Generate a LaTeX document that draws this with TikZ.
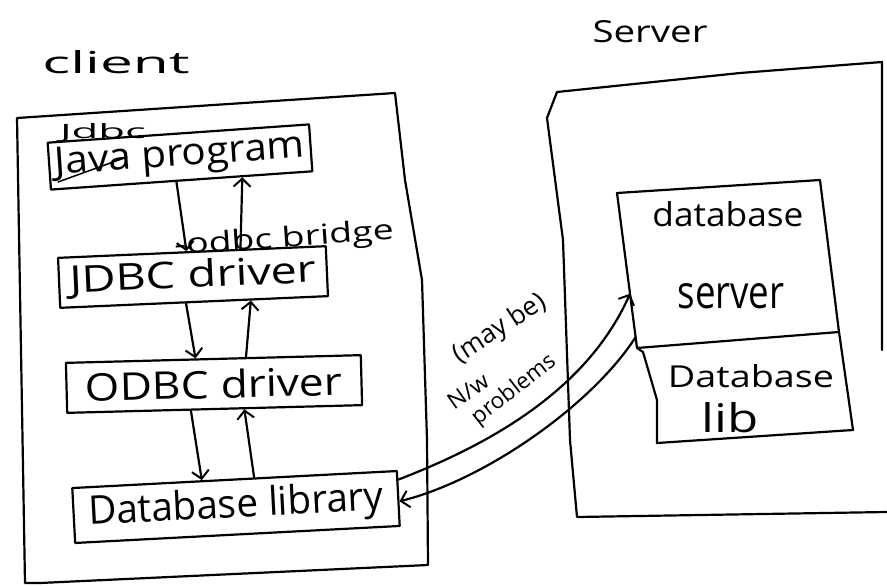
\documentclass[tikz,border=0pt]{standalone}
\usepackage{graphicx}
\usepackage{fontspec}
\setmainfont{Open Sans}
\usetikzlibrary{arrows.meta,calc}
\tikzset{
  ink/.style={line width=2.2pt, line join=round, line cap=round},
  box/.style={ink, draw, rectangle, inner sep=0pt},
  lbl/.style={inner sep=0pt},
  arr/.style={ink, -{Straight Barb[length=8pt,width=17pt,line width=2pt]}},
}
\newcommand\fitwh[3]{\resizebox{#1pt}{#2pt}{#3}}
\begin{document}
\begin{tikzpicture}[x=1pt,y=-1pt]
\fill[white] (0,0) rectangle (887,586);
\useasboundingbox (0,0) rectangle (887,586);

% titles
\node[lbl] (client) at (116,62) {\fitwh{147}{23}{client}};
\node[lbl] (server) at (650,32) {\fitwh{115}{22}{Server}};

% client container
\draw[ink] (17,118) -- (395,93) -- (405,180) -- (422,280) -- (427,440) -- (428,565) -- (40,583) -- (25,583) -- cycle;

% client boxes
\node[box, minimum width=262pt, minimum height=47pt, rotate=4] (java) at (180,157) {\fitwh{250}{27}{Java program}};
\node[lbl] (jdbcnote) at (103,133) {\fitwh{86}{15}{Jdbc}};
\draw[ink, line width=1.5pt] (58,182) -- (127,157);

\node[box, minimum width=268pt, minimum height=50pt, rotate=2.5] (jdbc) at (193,277) {\fitwh{247}{28}{JDBC driver}};
\node[lbl, rotate=4] (bridge) at (284,240) {\fitwh{220}{21}{-odbc bridge}};

\node[box, minimum width=295pt, minimum height=50pt, rotate=1.5] (odbc) at (214,384) {\fitwh{257}{29}{ODBC driver}};

\node[box, minimum width=325pt, minimum height=55pt, rotate=3] (dblib) at (236,507) {\fitwh{295}{30}{Database library}};

% vertical arrows
\draw[arr] ($(java.south west)!0.48!(java.south east)$) -- ($(jdbc.north west)!0.48!(jdbc.north east)$);
\draw[arr] ($(jdbc.north west)!0.68!(jdbc.north east)$) -- ($(java.south west)!0.73!(java.south east)$);
\draw[arr] ($(jdbc.south west)!0.47!(jdbc.south east)$) -- ($(odbc.north west)!0.44!(odbc.north east)$);
\draw[arr] ($(odbc.north west)!0.61!(odbc.north east)$) -- ($(jdbc.south west)!0.71!(jdbc.south east)$);
\draw[arr] ($(odbc.south west)!0.42!(odbc.south east)$) -- ($(dblib.north west)!0.40!(dblib.north east)$);
\draw[arr] ($(dblib.north west)!0.56!(dblib.north east)$) -- ($(odbc.south west)!0.60!(odbc.south east)$);

% server container (open on the lower right side)
\draw[ink] (882,350) -- (882,62) -- (740,73) -- (557,92) -- (547,118) -- (563,240) -- (570,440) -- (577,517) -- (887,512);

% database server box
\coordinate (dsTL) at (617,193);
\coordinate (dsTR) at (820,180);
\coordinate (dsBR) at (839,332);
\coordinate (dsBL) at (637,348);
\draw[ink] (dsTL) -- (dsTR) -- (dsBR) -- (dsBL) -- cycle;
\node[lbl] (dbtxt) at (728,214) {\fitwh{151}{25}{database}};
\node[lbl] (srvtxt) at (731,296) {\fitwh{107}{25}{server}};

% database lib box
\coordinate (dlTL) at (643,352);
\coordinate (dlML) at (657,400);
\coordinate (dlBL) at (657,443);
\coordinate (dlBR) at (853,430);
\draw[ink] (dsBL) -- (dlTL) -- (dlML) -- (dlBL) -- (dlBR) -- (dsBR);
\node[lbl] (dltxt) at (751,376) {\fitwh{166}{23}{Database}};
\node[lbl] (libtxt) at (730,418) {\fitwh{57}{30}{lib}};

% network arrows
\draw[arr] ($(dblib.north east)!0.17!(dblib.south east)$) .. controls (480,448) and (585,395) .. ($(dsTL)!0.65!(dsBL)$);
\draw[arr] ($(dsTL)!0.93!(dsBL)$) .. controls (592,405) and (485,480) .. ($(dblib.north east)!0.55!(dblib.south east)$);

% network labels
\node[lbl, rotate=33] (maybe) at (500,329) {\fitwh{105}{20}{(may be)}};
\node[lbl, rotate=35] (nw) at (468,391) {\fitwh{45}{16}{N/w}};
\node[lbl, rotate=38] (problems) at (514,390) {\fitwh{100}{17}{problems}};
\end{tikzpicture}
\end{document}
